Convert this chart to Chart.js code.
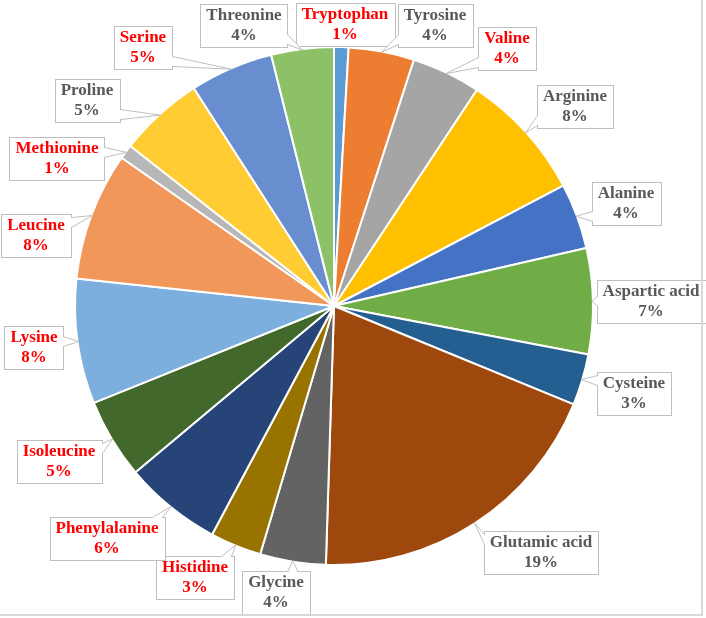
<!DOCTYPE html>
<html>
<head>
<meta charset="utf-8">
<script src="https://cdn.jsdelivr.net/npm/chart.js@4/dist/chart.umd.min.js"></script>
<style>
  html, body { margin: 0; padding: 0; background: #fff; }
  #wrap { position: relative; width: 706px; height: 618px; }
</style>
</head>
<body>
<div id="wrap"><canvas id="myChart" width="706" height="618"></canvas></div>
<script>
// Amino acids, clockwise from 12 o'clock
const aminoAcids = ['Tryptophan', 'Tyrosine', 'Valine', 'Arginine', 'Alanine', 'Aspartic acid',
    'Cysteine', 'Glutamic acid', 'Glycine', 'Histidine', 'Phenylalanine', 'Isoleucine',
    'Lysine', 'Leucine', 'Methionine', 'Proline', 'Serine', 'Threonine'];

// share of each (%)
const shares = [0.9, 4.1, 4.3, 8.0, 4.1, 6.6, 3.2, 19.3, 4.1, 3.2, 6.1, 5.0, 7.8, 8.0, 0.9, 5.3, 5.2, 3.9];

// names written in red in the original
const redNames = ['Tryptophan', 'Valine', 'Histidine', 'Phenylalanine', 'Isoleucine',
    'Lysine', 'Leucine', 'Methionine', 'Serine'];

const sliceColors = ['#5B9BD5', '#ED7D31', '#A5A5A5', '#FFC000', '#4472C4', '#70AD47',
    '#255E91', '#9E480E', '#636363', '#997300', '#264478', '#43682B',
    '#7CAFDD', '#F1975A', '#B7B7B7', '#FFCD33', '#698ED0', '#8CC168'];

// where each callout box sits, offset (px) from the pie centre
const calloutOffsets = [[11, -282], [101, -281], [173, -258], [241, -200], [292, -103], [317, -5],
    [300, 87], [207, 246], [-58, 286], [-139, 271], [-227, 232], [-275, 155],
    [-300, 41], [-298, -71], [-277, -148], [-247, -206], [-191, -259], [-90, -281]];

const total = shares.reduce((a, b) => a + b, 0);

// Etiquetas tipo "callout" de Excel
const calloutPlugin = {
    id: 'callouts',
    afterDatasetsDraw(chart) {
        const ctx = chart.ctx;
        const arcs = chart.getDatasetMeta(0).data;
        ctx.save();
        ctx.font = 'bold 17px "Liberation Serif", "Times New Roman", serif';
        ctx.textAlign = 'center';
        ctx.textBaseline = 'middle';

        arcs.forEach((arc, i) => {
            const p = arc.getProps(['x', 'y', 'startAngle', 'endAngle', 'outerRadius'], true);
            const mid = (p.startAngle + p.endAngle) / 2;
            const tip = { x: p.x + Math.cos(mid) * (p.outerRadius - 1), y: p.y + Math.sin(mid) * (p.outerRadius - 1) };

            const name = aminoAcids[i];
            const pct = Math.round(shares[i] / total * 100) + '%';
            const w = Math.max(ctx.measureText(name).width, ctx.measureText(pct).width) + 12;
            const h = 43;
            const cx = p.x + calloutOffsets[i][0];
            const cy = p.y + calloutOffsets[i][1];
            const left = Math.round(cx - w / 2) + 0.5;
            const top = Math.round(cy - h / 2) + 0.5;
            const right = left + Math.round(w);
            const bottom = top + h;

            ctx.lineWidth = 1;
            ctx.strokeStyle = '#BFBFBF';
            ctx.fillStyle = '#FFFFFF';
            ctx.fillRect(left, top, right - left, h);
            ctx.strokeRect(left, top, right - left, h);

            // tail towards the slice
            const nx = Math.min(Math.max(tip.x, left), right);
            const ny = Math.min(Math.max(tip.y, top), bottom);
            const dist = Math.hypot(tip.x - nx, tip.y - ny);
            if (dist > 4) {
                let b1, b2;
                const half = 5;
                const dxEdge = Math.max(left - tip.x, tip.x - right, 0);
                const dyEdge = Math.max(top - tip.y, tip.y - bottom, 0);
                if (dxEdge >= dyEdge) {
                    const ex = tip.x < left ? left : right;
                    const yy = Math.min(Math.max(ny, top + half + 3), bottom - half - 3);
                    b1 = { x: ex, y: yy - half };
                    b2 = { x: ex, y: yy + half };
                } else {
                    const ey = tip.y < top ? top : bottom;
                    const xx = Math.min(Math.max(nx, left + half + 3), right - half - 3);
                    b1 = { x: xx - half, y: ey };
                    b2 = { x: xx + half, y: ey };
                }
                ctx.beginPath();
                ctx.moveTo(b1.x, b1.y);
                ctx.lineTo(tip.x, tip.y);
                ctx.lineTo(b2.x, b2.y);
                ctx.closePath();
                ctx.fill();
                ctx.beginPath();
                ctx.moveTo(b1.x, b1.y);
                ctx.lineTo(tip.x, tip.y);
                ctx.lineTo(b2.x, b2.y);
                ctx.stroke();
                // open the box border where the tail joins
                ctx.beginPath();
                ctx.strokeStyle = '#FFFFFF';
                ctx.lineWidth = 1.5;
                const sx = (b2.x - b1.x) === 0 ? 0 : 1, sy = sx ? 0 : 1;
                ctx.moveTo(b1.x + sx, b1.y + sy);
                ctx.lineTo(b2.x - sx, b2.y - sy);
                ctx.stroke();
            }

            ctx.fillStyle = redNames.includes(name) ? '#FF0000' : '#595959';
            ctx.fillText(name, cx, cy - 9);
            ctx.fillText(pct, cx, cy + 11);
        });

        // thin frame on right and bottom, as in the picture
        ctx.strokeStyle = '#D9D9D9';
        ctx.lineWidth = 2;
        ctx.beginPath();
        ctx.moveTo(702, 0);
        ctx.lineTo(702, 615);
        ctx.lineTo(0, 615);
        ctx.stroke();
        ctx.restore();
    }
};

const ctx = document.getElementById('myChart').getContext('2d');
window.myChart = new Chart(ctx, {
    type: 'pie',
    data: {
        labels: aminoAcids,
        datasets: [{
            data: shares,
            backgroundColor: sliceColors,
            borderColor: '#FFFFFF',
            borderWidth: 2
        }]
    },
    options: {
        responsive: false,
        animation: false,
        layout: {
            padding: { left: 74, right: 112, top: 46, bottom: 52 }
        },
        plugins: {
            legend: { display: false },
            tooltip: { enabled: false }
        }
    },
    plugins: [calloutPlugin]
});
</script>
</body>
</html>
